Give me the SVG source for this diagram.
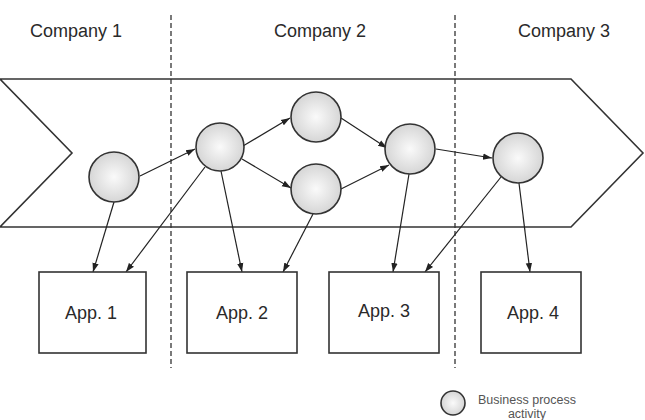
<svg xmlns="http://www.w3.org/2000/svg" width="645" height="420" viewBox="0 0 645 420">
<style>
.lbl{font-family:"Liberation Sans",Arial,sans-serif;font-size:18px;fill:#2a2a2a;text-anchor:middle}
.small{font-family:"Liberation Sans",Arial,sans-serif;font-size:12.5px;fill:#555;text-anchor:middle}
.act{fill:url(#g);stroke:#333;stroke-width:1.6}
.box{fill:#fff;stroke:#333;stroke-width:1.6}
.div{stroke:#333;stroke-width:1.3;stroke-dasharray:5,3;fill:none}
.con line{stroke:#222;stroke-width:1.2;marker-end:url(#ah)}
</style>
<defs>
<radialGradient id="g" cx="50%" cy="50%" r="55%">
<stop offset="0" stop-color="#fafafa"/>
<stop offset="1" stop-color="#d2d2d2"/>
</radialGradient>
<marker id="ah" viewBox="0 0 10 10" refX="10" refY="5" markerWidth="9" markerHeight="9" markerUnits="userSpaceOnUse" orient="auto">
<path d="M0,1.5 L10,5 L0,8.5 z" fill="#222"/>
</marker>
</defs>
<rect width="645" height="420" fill="#fff"/>
<g id="lanes">
<text class="lbl" x="76" y="37">Company 1</text>
<text class="lbl" x="320" y="37">Company 2</text>
<text class="lbl" x="564" y="37">Company 3</text>
<line class="div" x1="171" y1="15" x2="171" y2="368"/>
<line class="div" x1="455" y1="15" x2="455" y2="368"/>
</g>
<g id="chain">
<polygon points="0,79 571,79 643,153 571,227 0,227 72,153" fill="none" stroke="#333" stroke-width="1.6"/>
</g>
<g id="connectors" class="con">
<line x1="140" y1="176" x2="195" y2="149"/>
<line x1="243" y1="146" x2="290" y2="118"/>
<line x1="242" y1="159" x2="291" y2="188"/>
<line x1="341" y1="118" x2="387" y2="148"/>
<line x1="341" y1="189" x2="389" y2="165"/>
<line x1="436" y1="149" x2="492" y2="158"/>
<line x1="114" y1="202" x2="93" y2="272"/>
<line x1="205" y1="167" x2="126" y2="272"/>
<line x1="221" y1="171" x2="242" y2="272"/>
<line x1="313" y1="214" x2="283" y2="272"/>
<line x1="409" y1="174" x2="393" y2="272"/>
<line x1="501" y1="177" x2="425" y2="272"/>
<line x1="519" y1="183" x2="530" y2="272"/>
</g>
<g id="a1"><circle class="act" cx="114" cy="177" r="25"/></g>
<g id="a2"><circle class="act" cx="220" cy="147" r="24"/></g>
<g id="a3"><circle class="act" cx="316" cy="117" r="25"/></g>
<g id="a4"><circle class="act" cx="316" cy="189" r="25"/></g>
<g id="a5"><circle class="act" cx="410" cy="149" r="25"/></g>
<g id="a6"><circle class="act" cx="518" cy="158" r="25"/></g>
<g id="app1"><rect class="box" x="39" y="272" width="107" height="81"/><text class="lbl" x="91" y="319">App. 1</text></g>
<g id="app2"><rect class="box" x="187" y="272" width="110" height="81"/><text class="lbl" x="242" y="319">App. 2</text></g>
<g id="app3"><rect class="box" x="329" y="272" width="110" height="81"/><text class="lbl" x="384" y="317">App. 3</text></g>
<g id="app4"><rect class="box" x="481" y="272" width="100" height="81"/><text class="lbl" x="533" y="319">App. 4</text></g>
<g id="legend">
<circle class="act" cx="453" cy="403" r="12" stroke-width="1.3"/>
<text class="small" x="527" y="404">Business process</text>
<text class="small" x="527" y="418">activity</text>
</g>
</svg>
